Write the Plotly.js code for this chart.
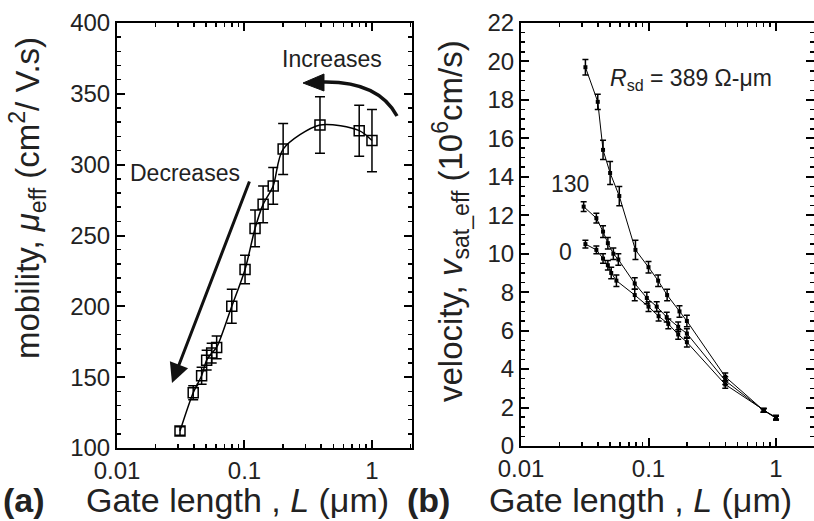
<!DOCTYPE html>
<html>
<head>
<meta charset="utf-8">
<script src="https://cdn.plot.ly/plotly-3.0.1.min.js"></script>
<style>html,body{margin:0;padding:0;background:#fff;}#chart{width:814px;height:521px;}</style>
</head>
<body>
<div id="chart"></div>
<script>
// ---- Panel (a): mobility vs gate length ----
const gateLengthA = [0.0312, 0.0396, 0.0461, 0.0505, 0.0553, 0.0605, 0.0795, 0.101, 0.121, 0.140, 0.168, 0.201, 0.391, 0.794, 1.0];
const mobility    = [112, 139, 151, 162, 167, 171, 200, 226, 255, 272, 285, 311, 328, 324, 317];
const mobilityErr = [3, 5, 6, 7, 7, 8, 12, 10, 13, 13, 13, 18, 20, 18, 22];

// ---- Panel (b): velocity vs gate length for three Rsd values ----
const gateL389 = [0.032, 0.040, 0.044, 0.050, 0.059, 0.079, 0.10, 0.119, 0.14, 0.175, 0.2, 0.40, 0.80, 1.0];
const vel389   = [19.7, 17.9, 15.4, 14.2, 13.0, 10.2, 9.3, 8.6, 7.85, 7.0, 6.5, 3.6, 1.85, 1.5];
const err389   = [0.4, 0.4, 0.5, 0.6, 0.5, 0.5, 0.3, 0.3, 0.3, 0.3, 0.3, 0.2, 0.1, 0.1];

const gateL130 = [0.031, 0.039, 0.044, 0.048, 0.053, 0.058, 0.078, 0.097, 0.116, 0.139, 0.171, 0.2, 0.40, 0.80, 1.0];
const vel130   = [12.45, 11.85, 11.15, 10.55, 10.0, 9.7, 8.45, 7.7, 7.25, 6.7, 6.2, 5.85, 3.4, 1.85, 1.45];
const err130   = [0.25, 0.25, 0.3, 0.3, 0.3, 0.3, 0.3, 0.3, 0.25, 0.25, 0.25, 0.25, 0.2, 0.1, 0.1];

const gateL0 = [0.032, 0.039, 0.044, 0.048, 0.051, 0.056, 0.078, 0.10, 0.12, 0.143, 0.171, 0.2, 0.40, 0.80, 1.0];
const vel0   = [10.5, 10.2, 9.75, 9.4, 9.0, 8.6, 7.85, 7.25, 6.75, 6.35, 5.8, 5.4, 3.2, 1.85, 1.45];
const err0   = [0.2, 0.2, 0.25, 0.25, 0.3, 0.3, 0.3, 0.25, 0.25, 0.25, 0.25, 0.25, 0.2, 0.1, 0.1];

// ---- tick labels ----
const xTickVals = [0.01, 0.1, 1];
const xTickText = ["0.01", "0.1", "1"];

const W = 814, H = 521;
const px = v => v / W;
const py = v => 1 - v / H;
const FONT = "Liberation Sans, Arial, Helvetica, sans-serif";
const TXT = "#222";

const X_A = [117/W, 412/W], Y_A = [1 - 448/H, 1 - 23/H];
const X_B = [521/W, 1],     Y_B = [1 - 446/H, 1 - 23/H];
const XR_A = [-2, 0.314], XR_B = [-2, 0.298];
const tf = {family: FONT, size: 24, color: TXT};

function xAxis(domain, range, anchor) {
  return {type: "log", domain: domain, range: range, anchor: anchor,
    tickmode: "array", tickvals: xTickVals, ticktext: xTickText,
    ticks: "inside", ticklen: 8, tickwidth: 2, tickcolor: "#000",
    minor: {ticks: "inside", ticklen: 4, tickwidth: 1.5, tickcolor: "#000", dtick: "D1", showgrid: false},
    showline: true, linewidth: 2, linecolor: "#000", mirror: "ticks",
    showgrid: false, zeroline: false, tickfont: tf};
}
function yAxis(domain, range, dtick, minorD, anchor) {
  return {domain: domain, range: range, anchor: anchor, tickmode: "linear", tick0: range[0], dtick: dtick,
    ticks: "inside", ticklen: 8, tickwidth: 2, tickcolor: "#000",
    minor: {ticks: "inside", ticklen: 4, tickwidth: 1.5, tickcolor: "#000", dtick: minorD, showgrid: false},
    showline: true, linewidth: 2, linecolor: "#000", mirror: "ticks",
    showgrid: false, zeroline: false, tickfont: tf};
}

const traces = [
  {
    x: gateLengthA, y: mobility, xaxis: "x", yaxis: "y", type: "scatter",
    mode: "lines+markers",
    line: {color: "#000", width: 1.5, shape: "spline", smoothing: 0.8},
    marker: {symbol: "square-open", size: 10, color: "#000", line: {width: 1.5, color: "#000"}},
    error_y: {type: "data", array: mobilityErr, visible: true, color: "#000", thickness: 1.5, width: 5}
  },
  {
    x: gateL389, y: vel389, xaxis: "x2", yaxis: "y2", type: "scatter", mode: "lines+markers",
    line: {color: "#000", width: 1}, marker: {symbol: "square", size: 4, color: "#000"},
    error_y: {type: "data", array: err389, visible: true, color: "#000", thickness: 1.5, width: 3}
  },
  {
    x: gateL130, y: vel130, xaxis: "x2", yaxis: "y2", type: "scatter", mode: "lines+markers",
    line: {color: "#000", width: 1}, marker: {symbol: "square", size: 4, color: "#000"},
    error_y: {type: "data", array: err130, visible: true, color: "#000", thickness: 1.5, width: 3}
  },
  {
    x: gateL0, y: vel0, xaxis: "x2", yaxis: "y2", type: "scatter", mode: "lines+markers",
    line: {color: "#000", width: 1}, marker: {symbol: "square", size: 4, color: "#000"},
    error_y: {type: "data", array: err0, visible: true, color: "#000", thickness: 1.5, width: 3}
  }
];

const titleFont = {family: FONT, size: 33, color: TXT};
const xTitleFont = {family: FONT, size: 34, color: TXT};
const annFont = {family: FONT, size: 23, color: TXT};
function txt(x, y, text, font, extra) {
  return Object.assign({xref: "paper", yref: "paper", x: px(x), y: py(y), showarrow: false,
    text: text, font: font, xanchor: "center", yanchor: "middle"}, extra || {});
}
const annotations = [
  txt(27, 198, "mobility, <i>μ</i><sub>eff</sub> (cm<sup>2</sup>/ V.s)", titleFont, {textangle: -90}),
  txt(450, 221, "velocity, <i>v</i><sub>sat_eff</sub> (10<sup>6</sup>cm/s)", titleFont, {textangle: -90}),
  txt(24, 500, "<b>(a)</b>", xTitleFont),
  txt(237, 500, "Gate length , <i>L</i> (μm)", xTitleFont),
  txt(428, 500, "<b>(b)</b>", xTitleFont),
  txt(640, 500, "Gate length , <i>L</i> (μm)", xTitleFont),
  txt(332, 59, "Increases", annFont),
  txt(185, 173, "Decreases", annFont),
  {xref: "paper", yref: "paper", x: px(172), y: py(383), ax: 78, ay: -203, axref: "pixel", ayref: "pixel",
   showarrow: true, text: "", arrowhead: 2, arrowsize: 1.3, arrowwidth: 3, arrowcolor: "#111"},
  txt(608, 79, "<i>R</i><sub>sd</sub> = 389 Ω-μm", annFont, {xanchor: "left"}),
  txt(570, 184, "130", annFont),
  txt(565, 252, "0", annFont)
];

function P(x, y) { return px(x).toFixed(5) + "," + py(y).toFixed(5); }
const shapes = [
  {type: "path", xref: "paper", yref: "paper",
   path: "M" + P(397,116) + " Q" + P(378,80) + " " + P(320,82),
   line: {color: "#111", width: 3.5}},
  {type: "path", xref: "paper", yref: "paper",
   path: "M" + P(303,83) + " L" + P(324,74) + " L" + P(324,91) + " Z",
   fillcolor: "#111", line: {color: "#111", width: 1}}
];

const layout = {
  width: W, height: H,
  margin: {l: 0, r: 0, t: 0, b: 0},
  paper_bgcolor: "#fff", plot_bgcolor: "rgba(0,0,0,0)",
  showlegend: false,
  font: {family: FONT, color: TXT},
  xaxis: xAxis(X_A, XR_A, "y"),
  yaxis: yAxis(Y_A, [100, 400], 50, 10, "x"),
  xaxis2: xAxis(X_B, XR_B, "y2"),
  yaxis2: yAxis(Y_B, [0, 22], 2, 0.5, "x2"),
  annotations: annotations,
  shapes: shapes
};

Plotly.newPlot("chart", traces, layout, {displayModeBar: false, staticPlot: true});
</script>
</body>
</html>
